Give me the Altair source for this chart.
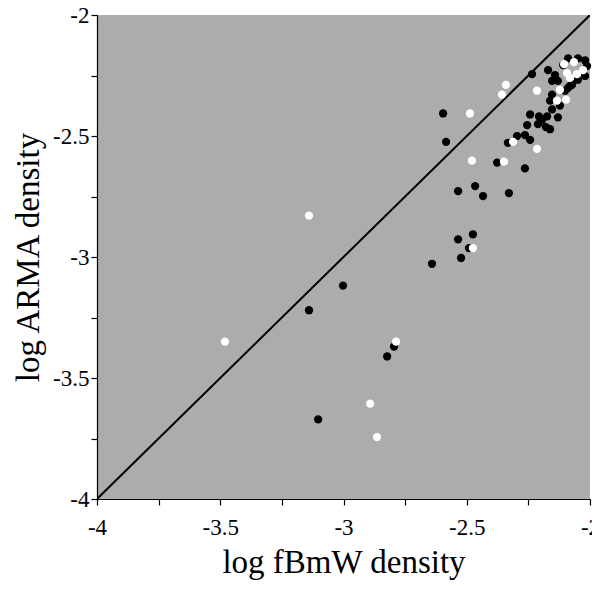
import altair as alt
import pandas as pd

# black points (log fBmW density, log ARMA density)
black_x = [-3.103, -3.140, -3.002, -2.823, -2.795, -2.641, -2.523, -2.491, -2.535, -2.475,
           -2.535, -2.466, -2.434, -2.329, -2.264, -2.377, -2.584, -2.596, -2.333, -2.243,
           -2.296, -2.264, -2.255, -2.211, -2.179, -2.162, -2.243, -2.207, -2.174, -2.130,
           -2.195, -2.154, -2.122, -2.162, -2.154, -2.101, -2.089, -2.073, -2.069, -2.130,
           -2.154, -2.142, -2.170, -2.235, -2.109, -2.089, -2.049, -2.020, -2.012, -2.020,
           -2.049, -2.081]
black_y = [-3.671, -3.220, -3.118, -3.411, -3.370, -3.028, -3.004, -2.963, -2.927, -2.906,
           -2.728, -2.707, -2.748, -2.736, -2.634, -2.610, -2.524, -2.407, -2.528, -2.516,
           -2.500, -2.496, -2.455, -2.451, -2.463, -2.472, -2.411, -2.419, -2.419, -2.423,
           -2.435, -2.390, -2.374, -2.354, -2.329, -2.313, -2.301, -2.289, -2.268, -2.272,
           -2.272, -2.248, -2.228, -2.244, -2.207, -2.179, -2.179, -2.187, -2.211, -2.252,
           -2.268, -2.293]

# white points
white_x = [-3.481, -3.140, -2.892, -2.864, -2.787, -2.475, -2.479, -2.487, -2.349, -2.312,
           -2.215, -2.341, -2.357, -2.215, -2.105, -2.065, -2.028, -2.093, -2.053, -2.081,
           -2.122, -2.134, -2.097]
white_y = [-3.350, -2.829, -3.606, -3.744, -3.350, -2.963, -2.602, -2.407, -2.606, -2.524,
           -2.553, -2.289, -2.329, -2.313, -2.203, -2.195, -2.228, -2.240, -2.244, -2.260,
           -2.309, -2.354, -2.350]

diag = [-4, -2]
tick_values = [-4, -3.75, -3.5, -3.25, -3, -2.75, -2.5, -2.25, -2]

FONT = "Liberation Serif"

df_b = pd.DataFrame({"x": black_x, "y": black_y})
df_w = pd.DataFrame({"x": white_x, "y": white_y})
df_d = pd.DataFrame({"x": diag, "y": diag})

label_expr = "abs(datum.value % 0.5) < 1e-9 ? '' + datum.value : ''"

xs = alt.Scale(domain=[-4, -2], nice=False, zero=False)
ys = alt.Scale(domain=[-4, -2], nice=False, zero=False)

common = dict(grid=False, tickSize=6,
              domainColor="black", tickColor="black", labelColor="black",
              titleColor="black", labelFont=FONT, titleFont=FONT,
              labelFontSize=23, titleFontSize=33, titleFontWeight="normal",
              labelFlush=False, labelOverlap=False, domainWidth=1.2, tickWidth=1.2)

xaxis = alt.Axis(values=tick_values, labelExpr=label_expr, title="log fBmW density",
                 labelPadding=11, titlePadding=7, **common)
yaxis = alt.Axis(values=tick_values, labelExpr=label_expr, title="log ARMA density",
                 labelPadding=2, titlePadding=7, **common)

line = alt.Chart(df_d).mark_line(color="black", strokeWidth=2, clip=True).encode(
    x=alt.X("x:Q", scale=xs, axis=xaxis),
    y=alt.Y("y:Q", scale=ys, axis=yaxis),
)
pts_b = alt.Chart(df_b).mark_circle(color="black", opacity=1, size=68).encode(
    x=alt.X("x:Q", scale=xs), y=alt.Y("y:Q", scale=ys))
pts_w = alt.Chart(df_w).mark_circle(color="white", opacity=1, size=68).encode(
    x=alt.X("x:Q", scale=xs), y=alt.Y("y:Q", scale=ys))

chart = alt.layer(line, pts_b, pts_w).properties(
    width=493, height=484,
    autosize=alt.AutoSizeParams(type="none"),
    padding={"left": 89, "top": 7, "right": 2, "bottom": 92},
    background="white",
).configure_view(fill="#acacac", stroke=None)

chart.save("out.html", embed_options={"renderer": "svg", "actions": False})
